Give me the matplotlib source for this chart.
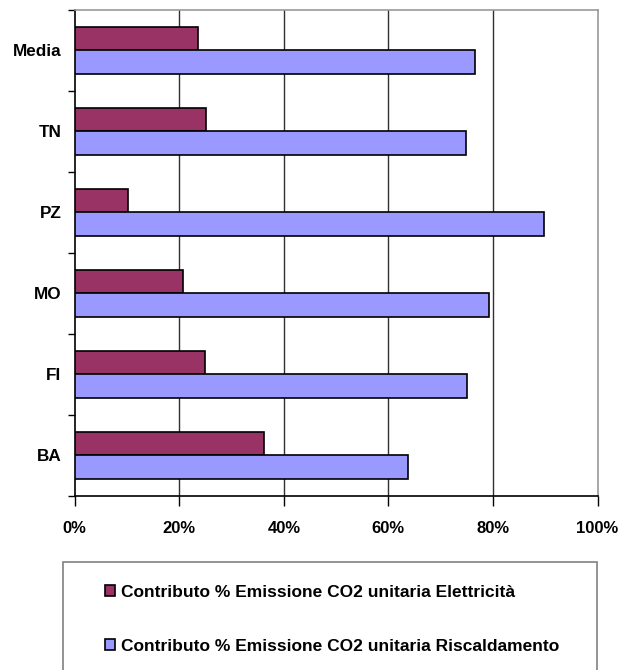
import numpy as np
import matplotlib
matplotlib.use("Agg")
import matplotlib.pyplot as plt
from matplotlib.patches import Rectangle, Patch

# Contributo percentuale alle emissioni di CO2 per citta'
citta = ["BA", "FI", "MO", "PZ", "TN", "Media"]
elettricita = [36.3, 25.0, 20.8, 10.2, 25.2, 23.5]
riscaldamento = [63.7, 75.0, 79.2, 89.8, 74.8, 76.5]
etichette = ["Contributo % Emissione CO2 unitaria Elettricità",
             "Contributo % Emissione CO2 unitaria Riscaldamento"]
xticks = [0, 20, 40, 60, 80, 100]

col_el = "#993366"
col_ri = "#9999FF"

plt.rcParams['font.family'] = ['Liberation Sans', 'DejaVu Sans']
plt.rcParams['font.weight'] = 'bold'

fig = plt.figure(figsize=(6.19, 6.70), dpi=100)
ax = fig.add_axes([0.1207, 0.2597, 0.8446, 0.7254])

y = np.arange(len(citta))
h = 0.288
ax.barh(y, elettricita, height=h, align='edge', color=col_el,
        edgecolor='black', linewidth=1.2, zorder=3)
ax.barh(y - h, riscaldamento, height=h, align='edge', color=col_ri,
        edgecolor='black', linewidth=1.2, zorder=3)

ax.set_xlim(0, 100)
ax.set_ylim(-0.5, len(citta) - 0.5)

ax.set_xticks(xticks)
ax.set_xticklabels([f"{v}%" for v in xticks], fontsize=12, fontweight='bold')
ax.tick_params(axis='x', direction='out', length=7, width=1, pad=11)

ax.set_yticks(y)
ax.set_yticklabels(citta, fontsize=12.3, fontweight='bold')
ax.tick_params(axis='y', which='major', length=0, pad=9.5)
ax.set_yticks(np.arange(-0.5, len(citta)), minor=True)
ax.tick_params(axis='y', which='minor', direction='out', length=5, width=1)

for v in xticks[1:-1]:
    ax.axvline(v, color='#303030', linewidth=1, zorder=1)

for s in ['left', 'bottom']:
    ax.spines[s].set_color('black')
    ax.spines[s].set_linewidth(1.2)
for s in ['top', 'right']:
    ax.spines[s].set_color('#999999')
    ax.spines[s].set_linewidth(1.2)

# riquadro della legenda (prosegue oltre il bordo inferiore)
fig.patches.append(Rectangle((63 / 619, -0.05), (597 - 63) / 619, 0.05 + 1 - 562 / 670,
                             transform=fig.transFigure, fill=False,
                             edgecolor='#808080', linewidth=1.2))

handles = [Patch(facecolor=col_el, edgecolor='black', linewidth=1.2),
           Patch(facecolor=col_ri, edgecolor='black', linewidth=1.2)]
fig.legend(handles, etichette, loc='upper left', bbox_to_anchor=(105 / 619, 1 - 585 / 670),
           frameon=False, prop={'size': 12.5, 'weight': 'bold'},
           handlelength=0.6, handleheight=0.6, handletextpad=0.3,
           labelspacing=2.25, borderpad=0, borderaxespad=0)

fig.savefig("out.png", dpi=100)
